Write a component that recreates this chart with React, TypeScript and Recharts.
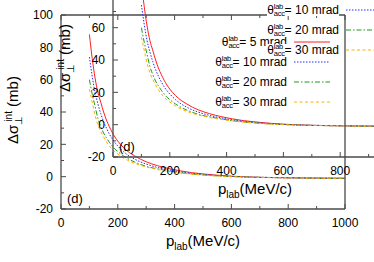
import React from "react";
import { LineChart, Line, XAxis, YAxis, Legend } from "recharts";

// p_lab (MeV/c) and the four acceptance-angle curves (mb)
const P_LAB = [100, 110, 120, 130, 140, 150, 160, 170, 180, 190, 200, 220, 240, 260, 280, 300, 340, 380, 420, 460, 500, 550, 600, 650, 700, 800, 900, 1000];
const ACC_5 = [88, 73, 61, 52, 46, 40, 35, 31, 27.5, 24.5, 22, 18, 15, 12.8, 10.8, 9.2, 6.8, 5, 3.6, 2.5, 1.7, 0.9, 0.3, -0.1, -0.4, -0.7, -0.9, -1.0];
const ACC_10 = [74, 62, 52, 45, 39, 34, 30, 26.5, 23.5, 21, 19, 15.5, 12.8, 10.8, 9.1, 7.8, 5.7, 4.2, 3, 2.1, 1.4, 0.7, 0.2, -0.2, -0.4, -0.7, -0.9, -1.0];
const ACC_20 = [60, 51, 43.5, 36, 31, 27, 24, 21.3, 19, 17, 15.5, 12.8, 10.7, 9, 7.6, 6.4, 4.8, 3.6, 2.5, 1.7, 1.1, 0.5, 0.1, -0.2, -0.4, -0.7, -0.9, -1.0];
const ACC_30 = [54, 46, 38, 32, 28, 24.5, 21.5, 19, 17, 15.3, 14, 11.6, 9.7, 8.2, 7, 6, 4.4, 3.3, 2.3, 1.5, 1.0, 0.4, 0, -0.3, -0.5, -0.7, -0.9, -1.0];

const X_TICKS = [0, 100, 200, 300, 400, 500, 600, 700, 800, 900, 1000];
const Y_TICKS = [-20, -10, 0, 10, 20, 30, 40, 50, 60, 70, 80, 90, 100];

const SERIES = [
  { key: "a5", mrad: 5, color: "#ff2020", dash: undefined as string | undefined },
  { key: "a10", mrad: 10, color: "#2a2aff", dash: "1.5 1.5" },
  { key: "a20", mrad: 20, color: "#1f9a1f", dash: "5 2 1.5 2" },
  { key: "a30", mrad: 30, color: "#ffb000", dash: "3 2.5" },
];

const rows = P_LAB.map((p, i) => ({ p, a5: ACC_5[i], a10: ACC_10[i], a20: ACC_20[i], a30: ACC_30[i] }));

const FONT = "'Liberation Sans', Arial, Helvetica, sans-serif";
const AX = "#4a4a4a";

function Tick(props: any) {
  const { x, y, payload, side } = props;
  const v = payload.value;
  const horiz = side === "bottom" || side === "top";
  const major = horiz ? v % 200 === 0 : v % 20 === 0;
  const len = major ? 5 : 3;
  let line;
  if (side === "bottom") line = <line x1={x} x2={x} y1={y} y2={y - len} stroke={AX} />;
  else if (side === "top") line = <line x1={x} x2={x} y1={y} y2={y + len} stroke={AX} />;
  else if (side === "left") line = <line x1={x} x2={x + len} y1={y} y2={y} stroke={AX} />;
  else line = <line x1={x} x2={x - len} y1={y} y2={y} stroke={AX} />;
  return (
    <g>
      {line}
      {major && side === "bottom" && (
        <text x={x} y={y + 18} textAnchor="middle" fontFamily={FONT} fontSize={12} fill="#000">{v}</text>
      )}
      {major && side === "left" && (
        <text x={x - 8} y={y + 4.3} textAnchor="end" fontFamily={FONT} fontSize={12} fill="#000">{v}</text>
      )}
    </g>
  );
}

function XTitle() {
  return (
    <text x={203} y={246} textAnchor="middle" fontFamily={FONT} fontSize={15} fill="#000">
      p<tspan fontSize={10} dy={4}>lab</tspan><tspan dy={-4}>(MeV/c)</tspan>
    </text>
  );
}

function YDecor() {
  return (
    <g fontFamily={FONT} fill="#000">
      <text transform="translate(18,110) rotate(-90)" textAnchor="middle" fontSize={15}>
        Δσ<tspan fontSize={10} dy={4}>⊥</tspan>
        <tspan fontSize={10} dx={-6} dy={-10}>int</tspan>
        <tspan dy={6}> (mb)</tspan>
      </text>
      <text x={67} y={203} fontSize={13}>(d)</text>
    </g>
  );
}

function Key({ opaque }: { opaque: boolean }) {
  return (
    <div style={{ fontFamily: FONT, fontSize: 12, color: "#000" }}>
      {SERIES.map((s) => (
        <div key={s.key} style={{ height: 20, display: "flex", alignItems: "center", justifyContent: "flex-end" }}>
          <span style={{ display: "inline-flex", alignItems: "center", height: 12, background: opaque ? "#fff" : "transparent" }}>
            <span>θ</span>
            <span style={{ display: "inline-flex", flexDirection: "column", fontSize: 7.5, lineHeight: "7px", letterSpacing: -0.3 }}>
              <span>lab</span>
              <span>acc</span>
            </span>
            <span>= {s.mrad} mrad</span>
          </span>
          <svg width={36} height={6} style={{ marginLeft: 7, overflow: "visible" }}>
            <line x1={0} x2={36} y1={3} y2={3} stroke={s.color} strokeDasharray={s.dash} />
          </svg>
        </div>
      ))}
    </div>
  );
}

function Panel({ opaque }: { opaque: boolean }) {
  const axisLine = { stroke: AX, strokeWidth: 1.3 };
  return (
    <LineChart width={374} height={262} data={rows} margin={{ top: 14, right: 28, bottom: 23, left: 21 }}>
      <XAxis xAxisId="b" dataKey="p" type="number" domain={[0, 1000]} ticks={X_TICKS} interval={0}
        orientation="bottom" height={30} axisLine={axisLine} tickLine={false} tickSize={0} tickMargin={0}
        tick={<Tick side="bottom" />} label={<XTitle />} />
      <XAxis xAxisId="t" dataKey="p" type="number" domain={[0, 1000]} ticks={X_TICKS} interval={0}
        orientation="top" height={1} axisLine={axisLine} tickLine={false} tickSize={0} tickMargin={0}
        tick={<Tick side="top" />} />
      <YAxis yAxisId="l" type="number" domain={[-20, 100]} ticks={Y_TICKS} interval={0}
        width={40} axisLine={axisLine} tickLine={false} tickSize={0} tickMargin={0}
        tick={<Tick side="left" />} label={<YDecor />} />
      <YAxis yAxisId="r" orientation="right" type="number" domain={[-20, 100]} ticks={Y_TICKS} interval={0}
        width={1} axisLine={axisLine} tickLine={false} tickSize={0} tickMargin={0}
        tick={<Tick side="right" />} />
      {SERIES.map((s) => (
        <Line key={s.key} xAxisId="b" yAxisId="l" type="monotone" dataKey={s.key} stroke={s.color}
          strokeWidth={1} strokeDasharray={s.dash} dot={false} isAnimationActive={false} />
      ))}
      <Legend layout="horizontal" verticalAlign="middle" align="center"
        content={() => <Key opaque={opaque} />}
        wrapperStyle={{ left: 200, top: 32, width: 130 }} />
    </LineChart>
  );
}

export default function App() {
  return (
    <div style={{ position: "fixed", left: 0, top: 0, width: 374, height: 262, overflow: "hidden", background: "#fff" }}>
      <div style={{ position: "absolute", left: 0, top: 0 }}>
        <Panel opaque={false} />
      </div>
      <div style={{ position: "absolute", left: 52, top: -52 }}>
        <Panel opaque />
      </div>
    </div>
  );
}
